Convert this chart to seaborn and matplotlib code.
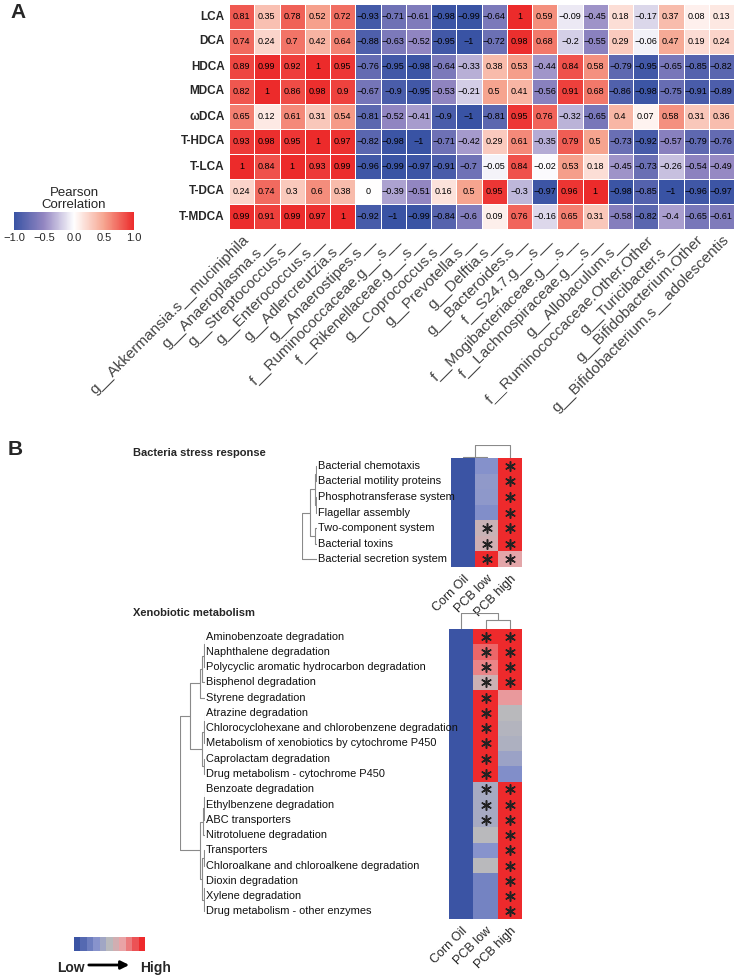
import numpy as np
import pandas as pd
import seaborn as sns
import matplotlib.pyplot as plt
from matplotlib.colors import LinearSegmentedColormap, Normalize
from matplotlib.cm import ScalarMappable

# ---- panel A: bile acids vs taxa (Pearson r) ----
bile_acids = ["LCA", "DCA", "HDCA", "MDCA", "ωDCA", "T-HDCA", "T-LCA", "T-DCA", "T-MDCA"]
taxa = ["g__Akkermansia.s__muciniphila", "g__Anaeroplasma.s__", "g__Streptococcus.s__",
        "g__Enterococcus.s__", "g__Adlercreutzia.s__", "g__Anaerostipes.s__",
        "f__Ruminococcaceae.g__.s__", "f__Rikenellaceae.g__.s__", "g__Coprococcus.s__",
        "g__Prevotella.s__", "g__Delftia.s__", "g__Bacteroides.s__", "f__S24.7.g__.s__",
        "f__Mogibacteriaceae.g__.s__", "f__Lachnospiraceae.g__.s__", "g__Allobaculum.s__",
        "f__Ruminococcaceae.Other.Other", "g__Turicibacter.s__", "g__Bifidobacterium.Other",
        "g__Bifidobacterium.s__adolescentis"]
r_lca = [0.81, 0.35, 0.78, 0.52, 0.72, -0.93, -0.71, -0.61, -0.98, -0.99, -0.64, 1, 0.59, -0.09, -0.45, 0.18, -0.17, 0.37, 0.08, 0.13]
r_dca = [0.74, 0.24, 0.7, 0.42, 0.64, -0.88, -0.63, -0.52, -0.95, -1, -0.72, 0.98, 0.68, -0.2, -0.55, 0.29, -0.06, 0.47, 0.19, 0.24]
r_hdca = [0.89, 0.99, 0.92, 1, 0.95, -0.76, -0.95, -0.98, -0.64, -0.33, 0.38, 0.53, -0.44, 0.84, 0.58, -0.79, -0.95, -0.65, -0.85, -0.82]
r_mdca = [0.82, 1, 0.86, 0.98, 0.9, -0.67, -0.9, -0.95, -0.53, -0.21, 0.5, 0.41, -0.56, 0.91, 0.68, -0.86, -0.98, -0.75, -0.91, -0.89]
r_wdca = [0.65, 0.12, 0.61, 0.31, 0.54, -0.81, -0.52, -0.41, -0.9, -1, -0.81, 0.95, 0.76, -0.32, -0.65, 0.4, 0.07, 0.58, 0.31, 0.36]
r_thdca = [0.93, 0.98, 0.95, 1, 0.97, -0.82, -0.98, -1, -0.71, -0.42, 0.29, 0.61, -0.35, 0.79, 0.5, -0.73, -0.92, -0.57, -0.79, -0.76]
r_tlca = [1, 0.84, 1, 0.93, 0.99, -0.96, -0.99, -0.97, -0.91, -0.7, -0.05, 0.84, -0.02, 0.53, 0.18, -0.45, -0.73, -0.26, -0.54, -0.49]
r_tdca = [0.24, 0.74, 0.3, 0.6, 0.38, 0, -0.39, -0.51, 0.16, 0.5, 0.95, -0.3, -0.97, 0.96, 1, -0.98, -0.85, -1, -0.96, -0.97]
r_tmdca = [0.99, 0.91, 0.99, 0.97, 1, -0.92, -1, -0.99, -0.84, -0.6, 0.09, 0.76, -0.16, 0.65, 0.31, -0.58, -0.82, -0.4, -0.65, -0.61]
cbar_ticks = [-1, -0.5, 0, 0.5, 1]
cbar_labels = ["−1.0", "−0.5", "0.0", "0.5", "1.0"]

# ---- panel B: KEGG pathways, scaled abundance ----
groups = ["Corn Oil", "PCB low", "PCB high"]
stress_pathways = ["Bacterial chemotaxis", "Bacterial motility proteins", "Phosphotransferase system",
                   "Flagellar assembly", "Two-component system", "Bacterial toxins",
                   "Bacterial secretion system"]
stress_corn_oil = [-1, -1, -1, -1, -1, -1, -1]
stress_pcb_low = [-0.42, -0.33, -0.35, -0.45, 0.12, 0.18, 1]
stress_pcb_high = [1, 1, 1, 1, 1, 1, 0.35]
stress_star_low = [0, 0, 0, 0, 1, 1, 1]
stress_star_high = [1, 1, 1, 1, 1, 1, 1]
# nested [left, right, height(px)]
stress_row_tree = [[[[0, 1, 1], [2, 3, 1.5], 2], [4, 5, 2], 7], 6, 15]
stress_col_tree = [[0, 1, 1.5], 2, 13]

xeno_pathways = ["Aminobenzoate degradation", "Naphthalene degradation",
                 "Polycyclic aromatic hydrocarbon degradation", "Bisphenol degradation",
                 "Styrene degradation", "Atrazine degradation",
                 "Chlorocyclohexane and chlorobenzene degradation",
                 "Metabolism of xenobiotics by cytochrome P450", "Caprolactam degradation",
                 "Drug metabolism - cytochrome P450", "Benzoate degradation",
                 "Ethylbenzene degradation", "ABC transporters", "Nitrotoluene degradation",
                 "Transporters", "Chloroalkane and chloroalkene degradation", "Dioxin degradation",
                 "Xylene degradation", "Drug metabolism - other enzymes"]
xeno_corn_oil = [-1] * 19
xeno_pcb_low = [1, 0.7, 0.55, 0.15, 1, 1, 1, 1, 1, 1, -0.15, -0.15, -0.15, 0, -0.4, 0, -0.55, -0.55, -0.55]
xeno_pcb_high = [1, 1, 1, 1, 0.45, 0, -0.05, -0.1, -0.25, -0.45, 1, 1, 1, 1, 1, 1, 1, 1, 1]
xeno_star_low = [1, 1, 1, 1, 1, 1, 1, 1, 1, 1, 1, 1, 1, 0, 0, 0, 0, 0, 0]
xeno_star_high = [1, 1, 1, 1, 0, 0, 0, 0, 0, 0, 1, 1, 1, 1, 1, 1, 1, 1, 1]
xeno_row_tree = [[[[[[0, 1, 0.5], 2, 1], 3, 3], 4, 5], [[[5, 6, 0.5], 7, 1], [8, 9, 1], 3], 15],
                 [[[[10, 11, 0.5], 12, 1], 13, 2.5], [[14, 15, 1], [[16, 17, 0.5], 18, 1], 3], 5], 25]
xeno_col_tree = [0, [1, 2, 9], 16]

sns.set_theme(style="white")
plt.rcParams["font.family"] = ["Liberation Sans", "DejaVu Sans"]

W, H = 751, 977
fig = plt.figure(figsize=(W / 100, H / 100), dpi=100)


def px_axes(x0, y0, x1, y1):
    return fig.add_axes([x0 / W, 1 - y1 / H, (x1 - x0) / W, (y1 - y0) / H])


def fig_text(x, y, s, **kw):
    fig.text(x / W, 1 - y / H, s, **kw)


corr_cmap = LinearSegmentedColormap.from_list(
    "corr", [(0, "#3953A4"), (0.25, "#9487C2"), (0.5, "#FFFFFF"), (0.75, "#F6A590"), (1, "#EC2B2B")])
path_cmap = LinearSegmentedColormap.from_list(
    "path", [(0, "#3B54A4"), (0.3, "#8893CC"), (0.5, "#B9B9BC"), (0.7, "#E9A3A6"), (1, "#EE2A2C")])

# ---------------- panel A ----------------
corr = pd.DataFrame([r_lca, r_dca, r_hdca, r_mdca, r_wdca, r_thdca, r_tlca, r_tdca, r_tmdca],
                    index=bile_acids, columns=taxa)
annot = corr.apply(lambda col: col.map(lambda v: f"{v:g}".replace("-", "\u2212")))

ax_a = px_axes(229, 4, 734, 229)
cax_a = px_axes(14, 212, 134, 230)
sns.heatmap(corr, cmap=corr_cmap, vmin=-1, vmax=1, annot=annot.values, fmt="",
            annot_kws={"size": 6.5, "color": "black"}, linewidths=0.6, linecolor="white",
            ax=ax_a, cbar_ax=cax_a, cbar_kws={"orientation": "horizontal", "ticks": cbar_ticks})
ax_a.set_xticklabels(taxa, rotation=45, ha="right", rotation_mode="anchor",
                     fontsize=11, color="#444444")
ax_a.set_yticklabels(bile_acids, rotation=0, fontsize=8.5, fontweight="bold")
ax_a.tick_params(length=0, pad=3)
ax_a.set_xlabel("")
ax_a.set_ylabel("")
cax_a.set_xticks(cbar_ticks)
cax_a.set_xticklabels(cbar_labels, fontsize=8)
cax_a.tick_params(length=0, pad=2)
cax_a.set_title("Pearson\nCorrelation", fontsize=9.5, linespacing=1.0, pad=3)
fig_text(10, 18, "A", fontsize=15, fontweight="bold")


# ---------------- panel B ----------------
def draw_tree(ax, node, orient):
    if isinstance(node, int):
        return node + 0.5, 0
    left, right, h = node
    p1, h1 = draw_tree(ax, left, orient)
    p2, h2 = draw_tree(ax, right, orient)
    if orient == "rows":
        ax.plot([h1, h, h, h2], [p1, p1, p2, p2], color="#8a8a8a", lw=0.8)
    else:
        ax.plot([p1, p1, p2, p2], [h1, h, h, h2], color="#8a8a8a", lw=0.8)
    return (p1 + p2) / 2, h


def pathway_block(names, cols, stars, row_tree, col_tree, hm_box, row_den_x, col_den_top):
    x0, y0, x1, y1 = hm_box
    df = pd.DataFrame(dict(zip(groups, cols)), index=names)
    ax = px_axes(x0, y0, x1, y1)
    sns.heatmap(df, cmap=path_cmap, vmin=-1, vmax=1, cbar=False, ax=ax,
                yticklabels=False, xticklabels=groups)
    ax.set_xticklabels(groups, rotation=45, ha="right", rotation_mode="anchor", fontsize=9)
    ax.tick_params(length=0, pad=4)
    for j, flags in zip([1, 2], stars):
        rows = [i + 0.5 for i, f in enumerate(flags) if f]
        ax.scatter([j + 0.5] * len(rows), rows, marker=(6, 2, 0), s=48,
                   color="#222222", linewidths=1.1, zorder=3)
    # row dendrogram + labels
    rh = row_tree[2]
    ax_r = px_axes(row_den_x - rh, y0, row_den_x, y1)
    draw_tree(ax_r, row_tree, "rows")
    ax_r.set_xlim(rh, 0)
    ax_r.set_ylim(len(names), 0)
    ax_r.axis("off")
    for i, name in enumerate(names):
        ax_r.text(-0.6, i + 0.5, name, ha="left", va="center", fontsize=7.9, color="#111111")
    # column dendrogram
    ax_c = px_axes(x0, col_den_top, x1, y0)
    draw_tree(ax_c, col_tree, "cols")
    ax_c.set_xlim(0, len(groups))
    ax_c.set_ylim(0, col_tree[2])
    ax_c.axis("off")


pathway_block(stress_pathways, [stress_corn_oil, stress_pcb_low, stress_pcb_high],
              [stress_star_low, stress_star_high], stress_row_tree, stress_col_tree,
              (451, 458, 522, 567), 317, 445)
pathway_block(xeno_pathways, [xeno_corn_oil, xeno_pcb_low, xeno_pcb_high],
              [xeno_star_low, xeno_star_high], xeno_row_tree, xeno_col_tree,
              (449, 629, 522, 919), 205, 613)

fig_text(8, 455, "B", fontsize=15, fontweight="bold")
fig_text(133, 453, "Bacteria stress response", fontsize=8, fontweight="bold", va="center")
fig_text(133, 613, "Xenobiotic metabolism", fontsize=8, fontweight="bold", va="center")

# low -> high legend
cax_b = px_axes(74, 937, 145, 951)
fig.colorbar(ScalarMappable(Normalize(-1, 1), path_cmap.resampled(11)), cax=cax_b,
             orientation="horizontal", ticks=[])
cax_b.set_frame_on(False)
fig_text(71, 968, "Low", fontsize=10, fontweight="bold", ha="center", va="center")
fig_text(156, 968, "High", fontsize=10, fontweight="bold", ha="center", va="center")
cax_b.annotate("", xy=(132 / W, 1 - 965 / H), xytext=(86 / W, 1 - 965 / H),
               xycoords="figure fraction", textcoords="figure fraction",
               arrowprops=dict(arrowstyle="-|>", lw=2, color="black", mutation_scale=12))

fig.savefig("out.png", dpi=100)
